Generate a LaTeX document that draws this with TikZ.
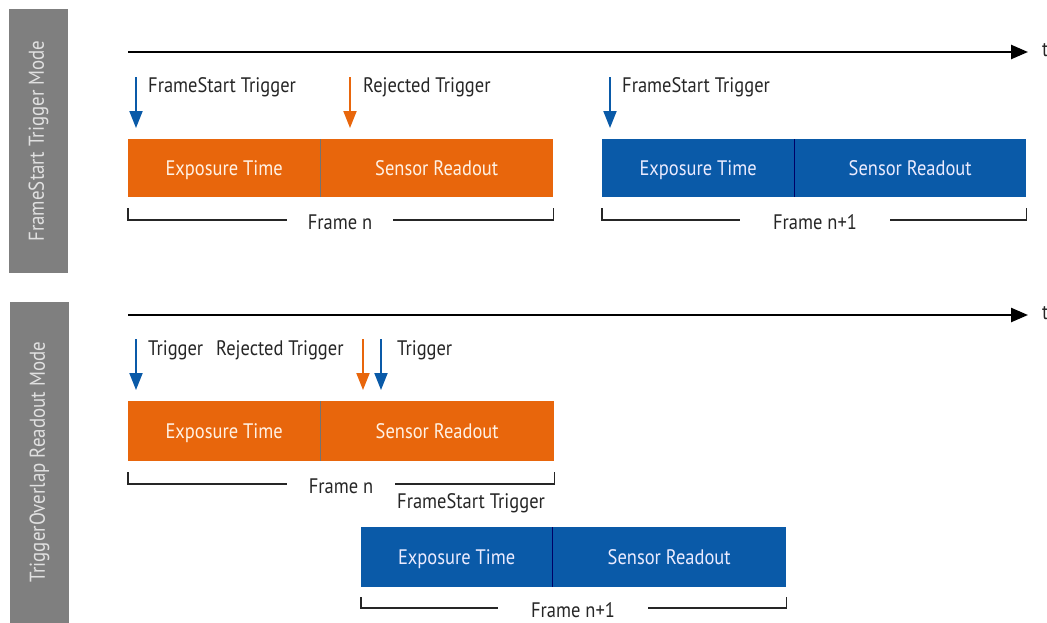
\documentclass[tikz,border=0pt]{standalone}
\usepackage{fontspec}
\setmainfont{PT Sans}[FakeStretch=0.88]
\usetikzlibrary{arrows.meta}
\definecolor{orng}{HTML}{E8660C}
\definecolor{blu}{HTML}{0A5AA8}
\definecolor{side}{HTML}{7F7F7F}
\definecolor{ink}{HTML}{262626}
\begin{document}
\begin{tikzpicture}[x=1pt,y=-1pt,
  sidebar/.style={fill=side,draw=none},
  sidetext/.style={rotate=90,text=black!12,font=\fontsize{21.5}{21.5}\selectfont},
  seg/.style={anchor=north west,minimum height=58pt,inner sep=0pt,text height=17pt,text depth=2pt,font=\fontsize{21}{21}\selectfont},
  oseg/.style={seg,fill=orng,text=white!90!orange},
  bseg/.style={seg,fill=blu,text=white!92!blue},
  divider/.style={draw=black!55,line width=0.8pt},
  lbl/.style={anchor=west,inner sep=0pt,text=ink,font=\fontsize{21}{21}\selectfont},
  framelbl/.style={inner sep=0pt,text=ink,font=\fontsize{21}{21}\selectfont},
  bracket/.style={draw=ink,line width=1.5pt},
  timeline/.style={draw=black,line width=2.5pt,-{Triangle[length=17pt,width=14pt]}},
  trig/.style={line width=2pt,-{Triangle[length=17pt,width=13pt]}},
]
\useasboundingbox (0,0) rectangle (1047,622);

% sidebars
\fill[sidebar] (9,9) rectangle (68,273);
\node[sidetext] (m1) at (38.5,141) {FrameStart Trigger Mode};
\fill[sidebar] (10,302) rectangle (69,630);
\node[sidetext] (m2) at (39.5,462) {TriggerOverlap Readout Mode};

% ===== Row 1 =====
\coordinate (t1s) at (128,52);
\coordinate (t1e) at (1028,52);
\draw[timeline] (t1s) -- (t1e);
\node[lbl] (t1) at (1042,50) {t};

\node[oseg,minimum width=192pt] (e1) at (128,139) {Exposure Time};
\node[oseg,minimum width=233pt] (r1) at (320,139) {Sensor Readout};
\draw[divider] (e1.north east) -- (e1.south east);

\node[bseg,minimum width=192pt] (e2) at (602,139) {Exposure Time};
\node[bseg,minimum width=232pt] (r2) at (794,139) {Sensor Readout};
\draw[divider,draw=black!60!blue] (e2.north east) -- (e2.south east);

\coordinate (a1s) at (136,77); \coordinate (a1e) at (136,128);
\draw[trig,blu] (a1s) -- (a1e);
\node[lbl] (l1) at (148,87) {FrameStart Trigger};
\coordinate (a2s) at (350,77); \coordinate (a2e) at (350,128);
\draw[trig,orng] (a2s) -- (a2e);
\node[lbl] (l2) at (363,87) {Rejected Trigger};
\coordinate (a3s) at (610,77); \coordinate (a3e) at (610,128);
\draw[trig,blu] (a3s) -- (a3e);
\node[lbl] (l3) at (622,87) {FrameStart Trigger};

\node[framelbl,minimum width=106pt] (f1) at (340,222) {Frame n};
\draw[bracket] ([yshift=-11pt]e1.south west) |- ([yshift=2pt]f1.west);
\draw[bracket] ([yshift=-11pt]r1.south east) |- ([yshift=2pt]f1.east);
\node[framelbl,minimum width=150pt] (f2) at (815,222) {Frame n+1};
\draw[bracket] ([yshift=-11pt]e2.south west) |- ([yshift=2pt]f2.west);
\draw[bracket] ([yshift=-11pt]r2.south east) |- ([yshift=2pt]f2.east);

% ===== Row 2 =====
\coordinate (t2s) at (128,315);
\coordinate (t2e) at (1028,315);
\draw[timeline] (t2s) -- (t2e);
\node[lbl] (t2) at (1042,313) {t};

\node[oseg,minimum width=192pt,minimum height=60pt] (e3) at (128,401) {Exposure Time};
\node[oseg,minimum width=234pt,minimum height=60pt] (r3) at (320,401) {Sensor Readout};
\draw[divider] (e3.north east) -- (e3.south east);

\node[bseg,minimum width=191pt,minimum height=60pt] (e4) at (361,527) {Exposure Time};
\node[bseg,minimum width=234pt,minimum height=60pt] (r4) at (552,527) {Sensor Readout};
\draw[divider,draw=black!60!blue] (e4.north east) -- (e4.south east);

\coordinate (b1s) at (136,339); \coordinate (b1e) at (136,390);
\draw[trig,blu] (b1s) -- (b1e);
\node[lbl] (m1l) at (148,350) {Trigger};
\node[lbl] (m2l) at (216,350) {Rejected Trigger};
\coordinate (b2s) at (363,339); \coordinate (b2e) at (363,390);
\draw[trig,orng] (b2s) -- (b2e);
\coordinate (b3s) at (381,339); \coordinate (b3e) at (381,390);
\draw[trig,blu] (b3s) -- (b3e);
\node[lbl] (m3l) at (397,350) {Trigger};

\node[framelbl,minimum width=107pt] (f3) at (341,486) {Frame n};
\draw[bracket] ([yshift=-11pt]e3.south west) |- ([yshift=2pt]f3.west);
\draw[bracket] ([yshift=-11pt]r3.south east) |- ([yshift=2pt]f3.east);
\node[lbl] (fs) at (397,503) {FrameStart Trigger};

\node[framelbl,minimum width=150pt] (f4) at (573,610) {Frame n+1};
\draw[bracket] ([yshift=-10pt]e4.south west) |- ([yshift=2pt]f4.west);
\draw[bracket] ([yshift=-10pt]r4.south east) |- ([yshift=2pt]f4.east);
\end{tikzpicture}
\end{document}
